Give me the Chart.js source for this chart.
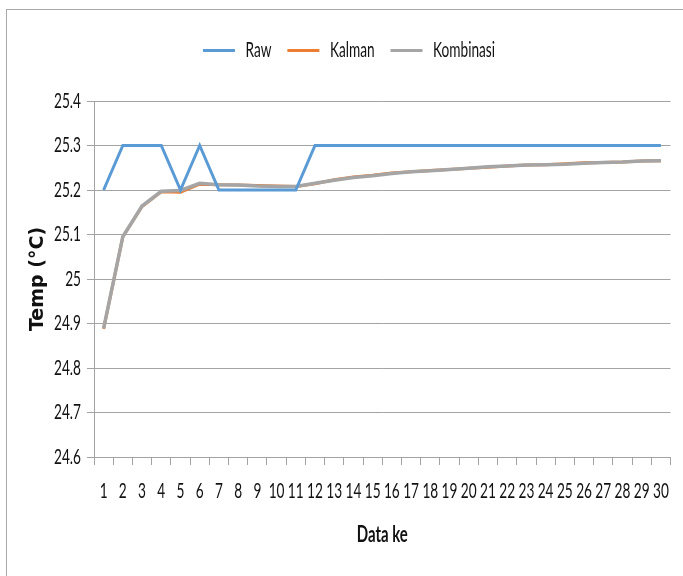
<!DOCTYPE html>
<html>
<head>
<meta charset="utf-8">
<script src="https://cdn.jsdelivr.net/npm/chart.js@4/dist/chart.umd.min.js"></script>
<style>
  html, body { margin: 0; padding: 0; background: #ffffff; }
  #wrap { width: 683px; height: 576px; }
</style>
</head>
<body>
<div id="wrap"><canvas id="c" width="683" height="576"></canvas></div>
<script>
// Sample index (Data ke)
const categories = ['1','2','3','4','5','6','7','8','9','10','11','12','13','14','15',
  '16','17','18','19','20','21','22','23','24','25','26','27','28','29','30'];

// Raw sensor reading (°C)
const rawValues = [25.2, 25.3, 25.3, 25.3, 25.2, 25.3, 25.2, 25.2, 25.2, 25.2,
  25.2, 25.3, 25.3, 25.3, 25.3, 25.3, 25.3, 25.3, 25.3, 25.3,
  25.3, 25.3, 25.3, 25.3, 25.3, 25.3, 25.3, 25.3, 25.3, 25.3];

// Kalman filter output (°C)
const kalmanValues = [24.888, 25.095, 25.163, 25.196, 25.195, 25.213, 25.212, 25.211, 25.210, 25.209,
  25.208, 25.214, 25.223, 25.229, 25.233, 25.238, 25.241, 25.244, 25.246, 25.249,
  25.251, 25.254, 25.256, 25.257, 25.259, 25.261, 25.262, 25.263, 25.265, 25.266];

// Combined filter output (°C)
const kombinasiValues = [24.889, 25.095, 25.164, 25.197, 25.199, 25.215, 25.212, 25.211, 25.209, 25.208,
  25.208, 25.215, 25.222, 25.228, 25.232, 25.237, 25.241, 25.243, 25.246, 25.249,
  25.252, 25.254, 25.256, 25.257, 25.258, 25.260, 25.262, 25.263, 25.265, 25.266];

const seriesNames = ['Raw', 'Kalman', 'Kombinasi'];
const yTicks = { min: 24.6, max: 25.4, step: 0.1 };
const xTitle = 'Data ke';
const yTitle = 'Temp (°C)';

const LABEL_FONT = 'Lato, "Liberation Sans", sans-serif';
const TEXT = '#111111';
const GRID = '#a3a3a3';

// Condensed lettering: every label except the DejaVu axis title is drawn
// horizontally squeezed, and measured the same way so the layout agrees.
const SQUEEZE = 0.65;
(function () {
  const proto = CanvasRenderingContext2D.prototype;
  const fill = proto.fillText;
  const measure = proto.measureText;
  const wide = ctx => /DejaVu/.test(ctx.font);
  proto.fillText = function (text, x, y, maxWidth) {
    if (wide(this)) return fill.call(this, text, x, y);
    this.save();
    this.translate(x, y);
    this.scale(SQUEEZE, 1);
    fill.call(this, text, 0, 0);
    this.restore();
  };
  proto.measureText = function (text) {
    const m = measure.call(this, text);
    if (wide(this)) return m;
    return {
      width: m.width * SQUEEZE,
      actualBoundingBoxAscent: m.actualBoundingBoxAscent,
      actualBoundingBoxDescent: m.actualBoundingBoxDescent,
      actualBoundingBoxLeft: m.actualBoundingBoxLeft * SQUEEZE,
      actualBoundingBoxRight: m.actualBoundingBoxRight * SQUEEZE,
      fontBoundingBoxAscent: m.fontBoundingBoxAscent,
      fontBoundingBoxDescent: m.fontBoundingBoxDescent
    };
  };
})();

// thin frame around the whole chart
const framePlugin = {
  id: 'frame',
  beforeDraw(chart) {
    const ctx = chart.ctx;
    ctx.save();
    ctx.fillStyle = '#ffffff';
    ctx.fillRect(0, 0, chart.width, chart.height);
    ctx.strokeStyle = '#a8a8a8';
    ctx.lineWidth = 1;
    ctx.strokeRect(6.5, 9.5, 760, 640);
    ctx.restore();
  }
};

// fixed legend band height so the plot starts at the same place every time
const legendBand = {
  id: 'legendBand',
  beforeInit(chart) {
    const fit = chart.legend.fit;
    chart.legend.fit = function () {
      fit.call(this);
      this.height = 77;
    };
  }
};

new Chart(document.getElementById('c'), {
  type: 'line',
  data: {
    labels: categories,
    datasets: [
      { label: seriesNames[0], data: rawValues, borderColor: '#5b9bd5', backgroundColor: '#5b9bd5',
        borderWidth: 3, pointRadius: 0, tension: 0, order: 0 },
      { label: seriesNames[1], data: kalmanValues, borderColor: '#ed7d31', backgroundColor: '#ed7d31',
        borderWidth: 3, pointRadius: 0, tension: 0, order: 2 },
      { label: seriesNames[2], data: kombinasiValues, borderColor: '#a5a5a5', backgroundColor: '#a5a5a5',
        borderWidth: 3.5, pointRadius: 0, tension: 0, order: 1 }
    ]
  },
  options: {
    responsive: false,
    devicePixelRatio: 1,
    animation: false,
    layout: { padding: { top: 24, left: 25, right: 10, bottom: 20 } },
    plugins: {
      tooltip: { enabled: false },
      legend: {
        position: 'top',
        labels: {
          color: TEXT,
          font: { family: LABEL_FONT, size: 21 },
          boxWidth: 32,
          boxHeight: 3,
          padding: 16,
          sort: (a, b) => a.datasetIndex - b.datasetIndex,
          generateLabels(chart) {
            return Chart.defaults.plugins.legend.labels.generateLabels(chart).map(it => {
              it.lineWidth = 0;
              it.fillStyle = it.strokeStyle;
              return it;
            });
          }
        }
      }
    },
    scales: {
      x: {
        type: 'category',
        offset: true,
        afterFit(s) { s.height = 99; },
        grid: { display: true, drawOnChartArea: false, drawTicks: true, tickLength: 8, offset: true, color: GRID },
        border: { display: true, color: GRID },
        ticks: { color: TEXT, font: { family: LABEL_FONT, size: 21 }, padding: 14, maxRotation: 0, autoSkip: false },
        title: { display: true, text: xTitle, color: TEXT,
          font: { family: LABEL_FONT, size: 23, weight: 'bold' }, padding: { top: 0, bottom: 8 } }
      },
      y: {
        min: yTicks.min,
        max: yTicks.max,
        afterFit(s) { s.width = 69; },
        grid: { color: GRID, drawTicks: true, tickLength: 7 },
        border: { display: true, color: GRID },
        ticks: {
          stepSize: yTicks.step,
          color: TEXT,
          font: { family: LABEL_FONT, size: 21 },
          padding: 6,
          callback: v => String(Number(v.toFixed(1)))
        },
        title: { display: true, text: yTitle, color: TEXT,
          font: { family: '"DejaVu Sans", sans-serif', size: 19, weight: 'bold' }, padding: { top: 2, bottom: 0 } }
      }
    }
  },
  plugins: [framePlugin, legendBand]
});
</script>
</body>
</html>
